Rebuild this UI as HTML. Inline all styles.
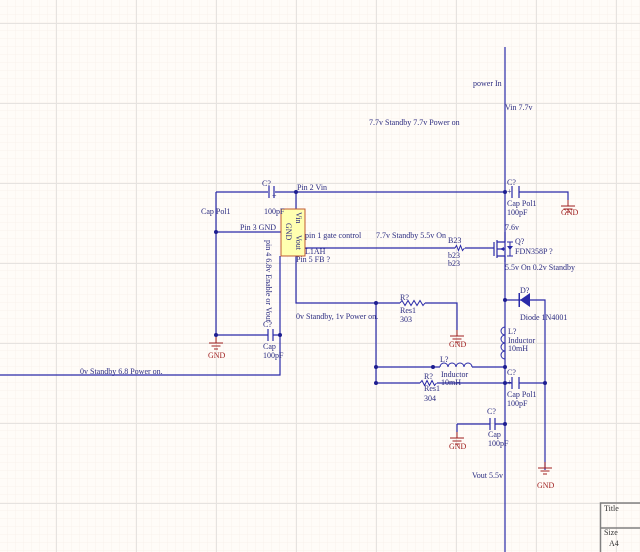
<!DOCTYPE html>
<html><head><meta charset="utf-8"><style>
html,body{margin:0;padding:0;background:#fffcf8;}
svg{display:block;}
text{font-family:"Liberation Serif",serif;font-size:8px;fill:#2c2c80;}
.g{fill:#a02020;}
</style></head><body>
<svg width="640" height="552" viewBox="0 0 640 552" xmlns="http://www.w3.org/2000/svg">
<defs>
<pattern id="mi" width="8" height="8" patternUnits="userSpaceOnUse" x="0" y="7">
<path d="M8 0V8M0 8H8" stroke="#f8f2ec" stroke-width="1" fill="none"/></pattern>
<pattern id="ma" width="80" height="80" patternUnits="userSpaceOnUse" x="56" y="23">
<path d="M0.5 0V80M0 0.5H80" stroke="#e6e3e0" stroke-width="1" fill="none"/></pattern>
<g id="gnd" stroke="#a02020" stroke-width="1" fill="none">
<path d="M0 0V6M-7 6H7M-4.5 9H4.5M-2 12H2"/></g>
</defs>
<rect width="640" height="552" fill="#fffcf8"/>
<rect width="640" height="552" fill="url(#mi)"/>
<rect width="640" height="552" fill="url(#ma)"/>

<g stroke="#2a2aa8" stroke-width="1.2" fill="none">
<path d="M505 47V552"/>
<path d="M216 192H268M275 192H505"/>
<path d="M269 186V198M274 186V198" />
<path d="M216 192V335"/>
<path d="M216 232H281"/>
<path d="M216 335H268M273 335H280"/>
<path d="M268 329V341M273 329V341"/>
<path d="M296 192V209"/>
<path d="M280 256V375H0"/>
<path d="M305 248H455M465 248H494"/>
<path d="M296 256V303H400M425 303H457V330"/>
<path d="M376 303V383"/>
<path d="M376 367H440M472 367H505"/>
<path d="M376 383H420M437 383H512M519 383H545"/>
<path d="M512 377V389M519 377V389"/>
<path d="M512 186V198M519 186V198"/>
<path d="M519 192H568V200"/>
<path d="M505 300H545V470"/>
<path d="M457 424H490M495 424H505"/>
<path d="M490 418V430M495 418V430"/>
<path d="M457 424V432"/>
<path d="M400 303l2 -2.5l3 5l3 -5l3 5l3 -5l3 5l3 -5l3 5l2 -2.5" stroke-width="1"/>
<path d="M420 383l2 -2.5l2.5 5l2.5 -5l2.5 5l2.5 -5l2.5 5l2 -2.5" stroke-width="1"/>
<path d="M455 248l1.5 -2.5l2 5l2 -5l2 5l2 -2.5" stroke-width="1"/>
<path d="M440 367a4 4 0 0 1 8 0a4 4 0 0 1 8 0a4 4 0 0 1 8 0a4 4 0 0 1 8 0" stroke-width="1"/>
<path d="M505 325V327a4 4 0 0 0 0 8a4 4 0 0 0 0 8a4 4 0 0 0 0 8a4 4 0 0 0 0 8V367" stroke-width="1"/>
<path d="M494 242V256M497 240V258M497 242H505M497 256H505M497 249H505" stroke-width="1.2"/>
<path d="M505 242V232M505 256V262" />
<path d="M510 242V256M507 242H513M507 256H513" stroke-width="1"/>
</g>
<polygon points="500,249 504,247 504,251" fill="#2a2aa8"/>
<polygon points="507,246 513,246 510,250" fill="#2a2aa8"/>
<polygon points="520,300 530,293 530,307" fill="#2a2aa8"/>
<rect x="518.5" y="293" width="1.5" height="14" fill="#2a2aa8"/>

<g fill="#1e1e90">
<circle cx="296" cy="192" r="2"/><circle cx="505" cy="192" r="2"/>
<circle cx="216" cy="232" r="2"/><circle cx="216" cy="335" r="2"/>
<circle cx="280" cy="335" r="2"/><circle cx="376" cy="303" r="2"/>
<circle cx="376" cy="367" r="2"/><circle cx="376" cy="383" r="2"/>
<circle cx="433" cy="367" r="2"/><circle cx="505" cy="367" r="2"/>
<circle cx="505" cy="383" r="2"/><circle cx="545" cy="383" r="2"/>
<circle cx="505" cy="300" r="2"/><circle cx="505" cy="424" r="2"/>
</g>

<rect x="281" y="209" width="24" height="47" fill="#ffffb0" stroke="#c05a30" stroke-width="1"/>
<text transform="translate(286,223) rotate(90)">GND</text>
<text transform="translate(296,212) rotate(90)">Vin</text>
<text transform="translate(296,235) rotate(90)">Vout</text>
<text transform="translate(266,240) rotate(90)">pin 4 6.8v  Enable or Vout</text>

<use href="#gnd" x="216" y="337"/>
<use href="#gnd" x="457" y="330"/>
<use href="#gnd" x="568" y="200"/>
<use href="#gnd" x="457" y="432"/>
<use href="#gnd" x="545" y="462"/>
<text class="g" x="208" y="358">GND</text>
<text class="g" x="449" y="347">GND</text>
<text class="g" x="561" y="215">GND</text>
<text class="g" x="449" y="449">GND</text>
<text class="g" x="537" y="488">GND</text>

<text x="262" y="186">C?</text>
<text x="272" y="198" font-size="7">+</text>
<text x="297" y="190">Pin 2 Vin</text>
<text x="201" y="214">Cap Pol1</text>
<text x="264" y="214">100pF</text>
<text x="240" y="230">Pin 3 GND</text>
<text x="305" y="238">pin 1 gate control</text>
<text x="305" y="254">L1AH</text>
<text x="296" y="262">Pin 5 FB ?</text>
<text x="263" y="327">C?</text>
<text x="263" y="349">Cap</text>
<text x="263" y="358">100pF</text>
<text x="80" y="374">0v Standby   6.8 Power on.</text>
<text x="296" y="319">0v Standby,    1v Power on.</text>
<text x="376" y="238">7.7v Standby  5.5v On</text>
<text x="369" y="125">7.7v Standby  7.7v Power on</text>
<text x="473" y="86">power In</text>
<text x="505" y="110">Vin 7.7v</text>
<text x="507" y="185">C?</text>
<text x="507" y="194" font-size="7">+</text>
<text x="507" y="206">Cap Pol1</text>
<text x="507" y="215">100pF</text>
<text x="505" y="230">7.6v</text>
<text x="448" y="243">B23</text>
<text x="448" y="258">b23</text>
<text x="448" y="266">b23</text>
<text x="515" y="244">Q?</text>
<text x="515" y="254">FDN358P   ?</text>
<text x="505" y="270">5.5v  On   0.2v Standby</text>
<text x="400" y="300">R?</text>
<text x="400" y="313">Res1</text>
<text x="400" y="322">303</text>
<text x="520" y="293">D?</text>
<text x="520" y="320">Diode 1N4001</text>
<text x="508" y="334">L?</text>
<text x="508" y="343">Inductor</text>
<text x="508" y="351">10mH</text>
<text x="440" y="362">L?</text>
<text x="441" y="377">Inductor</text>
<text x="441" y="385">10mH</text>
<text x="424" y="379">R?</text>
<text x="424" y="391">Res1</text>
<text x="424" y="401">304</text>
<text x="507" y="375">C?</text>
<text x="507" y="385" font-size="7">+</text>
<text x="507" y="397">Cap Pol1</text>
<text x="507" y="406">100pF</text>
<text x="487" y="414">C?</text>
<text x="488" y="437">Cap</text>
<text x="488" y="446">100pF</text>
<text x="472" y="478">Vout 5.5v</text>

<g stroke="#808080" stroke-width="1.5" fill="none">
<path d="M600.5 552V503H640M600 528H640"/></g>
<text x="604" y="511" style="fill:#333">Title</text>
<text x="604" y="535" style="fill:#333">Size</text>
<text x="609" y="546" style="fill:#333">A4</text>
</svg>
</body></html>
